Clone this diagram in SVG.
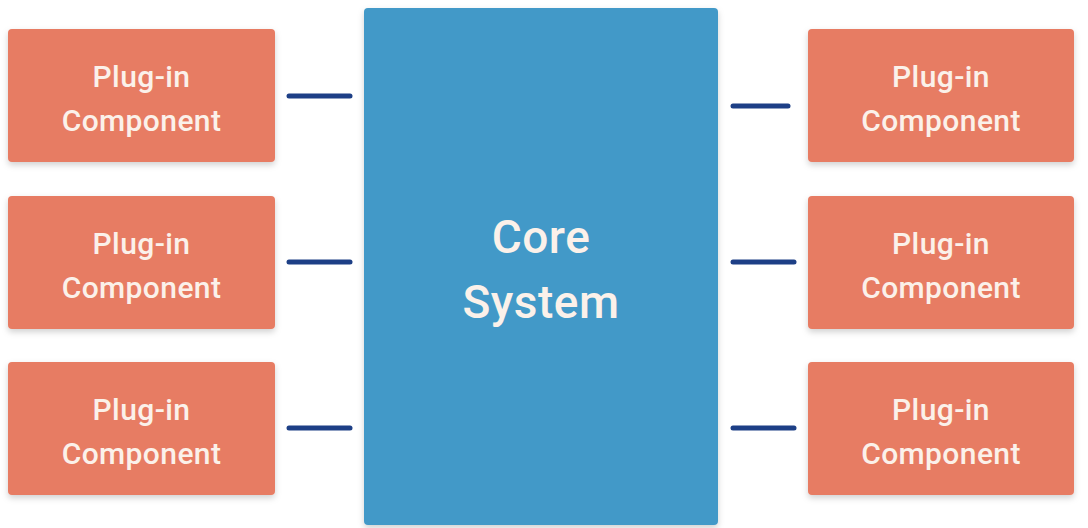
<svg xmlns="http://www.w3.org/2000/svg" width="1088" height="528" viewBox="0 0 1088 528">
<defs>
<filter id="sh" x="-10%" y="-10%" width="120%" height="130%">
<feDropShadow dx="0" dy="3" stdDeviation="3" flood-color="#000" flood-opacity="0.18"/>
</filter>
</defs>
<style>
.plug{fill:#E77C63;filter:url(#sh)}
.core{fill:#4299C8;filter:url(#sh)}
.t{font-family:Roboto,"Liberation Sans",Arial,sans-serif;font-weight:500;fill:#FBF1EA;text-anchor:middle}
.pt{font-size:30px;letter-spacing:0.4px}
.ct{font-size:46px;letter-spacing:0.5px}
.ln{stroke:#1D3F86;stroke-width:5;stroke-linecap:round}
</style>
<rect width="1088" height="528" fill="#FFFFFF"/>
<g id="core">
<rect class="core" x="364" y="8" width="354" height="517" rx="4"/>
<text class="t ct" x="541" y="253">Core</text>
<text class="t ct" x="541" y="318">System</text>
</g>
<g id="plugin-l1">
<rect class="plug" x="8" y="29" width="267" height="133" rx="4"/>
<text class="t pt" x="141.5" y="87">Plug-in</text>
<text class="t pt" x="141.5" y="131">Component</text>
</g>
<g id="plugin-l2">
<rect class="plug" x="8" y="196" width="267" height="133" rx="4"/>
<text class="t pt" x="141.5" y="254">Plug-in</text>
<text class="t pt" x="141.5" y="298">Component</text>
</g>
<g id="plugin-l3">
<rect class="plug" x="8" y="362" width="267" height="133" rx="4"/>
<text class="t pt" x="141.5" y="420">Plug-in</text>
<text class="t pt" x="141.5" y="464">Component</text>
</g>
<g id="plugin-r1">
<rect class="plug" x="808" y="29" width="266" height="133" rx="4"/>
<text class="t pt" x="941" y="87">Plug-in</text>
<text class="t pt" x="941" y="131">Component</text>
</g>
<g id="plugin-r2">
<rect class="plug" x="808" y="196" width="266" height="133" rx="4"/>
<text class="t pt" x="941" y="254">Plug-in</text>
<text class="t pt" x="941" y="298">Component</text>
</g>
<g id="plugin-r3">
<rect class="plug" x="808" y="362" width="266" height="133" rx="4"/>
<text class="t pt" x="941" y="420">Plug-in</text>
<text class="t pt" x="941" y="464">Component</text>
</g>
<g id="connectors">
<line class="ln" x1="289" y1="96" x2="350" y2="96"/>
<line class="ln" x1="289" y1="262" x2="350" y2="262"/>
<line class="ln" x1="289" y1="428" x2="350" y2="428"/>
<line class="ln" x1="733" y1="106" x2="788" y2="106"/>
<line class="ln" x1="733" y1="262" x2="794" y2="262"/>
<line class="ln" x1="733" y1="428" x2="794" y2="428"/>
</g>
</svg>
